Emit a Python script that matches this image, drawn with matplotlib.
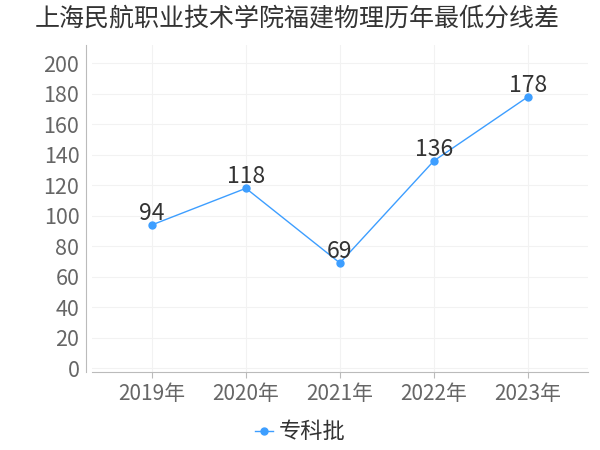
import matplotlib
matplotlib.use("Agg")
import matplotlib.pyplot as plt

plt.rcParams['font.family'] = ['Noto Sans CJK SC', 'DejaVu Sans']

years = ["2019年", "2020年", "2021年", "2022年", "2023年"]
scores = [94, 118, 69, 136, 178]
series_name = "专科批"
title = "上海民航职业技术学院福建物理历年最低分线差"
yticks = [0, 20, 40, 60, 80, 100, 120, 140, 160, 180, 200]

color = "#3d9eff"

fig = plt.figure(figsize=(6, 4.5), dpi=100)
ax = fig.add_axes([0.153, 0.173, 0.827, 0.727])

x = list(range(len(years)))
ax.plot(x, scores, color=color, lw=1, marker="o", ms=5, label=series_name, zorder=3)
for xi, v in zip(x, scores):
    ax.annotate(str(v), (xi, v), xytext=(0, 0), textcoords="offset points",
                ha="center", va="bottom", fontsize=16.5, color="#333333")

ax.set_xlim(-0.64, 4.64)
ax.set_ylim(-2.6, 212)
ax.set_xticks(x)
ax.set_xticklabels(years)
ax.set_yticks(yticks)

ax.grid(True, color="#f2f2f2", lw=0.8)
ax.set_axisbelow(True)

for s in ["top", "right"]:
    ax.spines[s].set_visible(False)
ax.spines["left"].set_position(("outward", 4))
ax.spines["left"].set_color("#bbbbbb")
ax.spines["bottom"].set_color("#bbbbbb")
ax.tick_params(axis="y", length=0, labelsize=15.5, labelcolor="#666666", pad=5)
ax.tick_params(axis="x", length=4, color="#bbbbbb", labelsize=15, labelcolor="#666666", pad=4)

fig.suptitle(title, x=0.495, y=0.985, fontsize=18, color="#333333")
fig.legend(loc="center", bbox_to_anchor=(0.5, 0.04), frameon=False, fontsize=16,
           handlelength=0.8, handletextpad=0.25, labelcolor="#333333")

fig.savefig("out.png", dpi=100)
